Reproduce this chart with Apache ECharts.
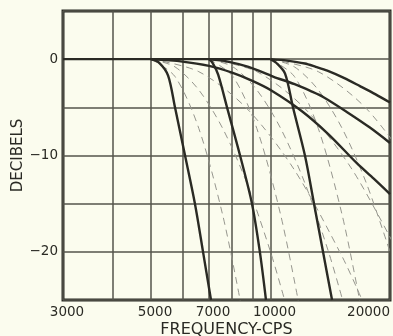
<!DOCTYPE html>
<html>
<head>
<meta charset="utf-8">
<script src="https://cdn.jsdelivr.net/npm/echarts@6/dist/echarts.min.js"></script>
<style>
  html, body { margin: 0; padding: 0; background: #fbfcee; }
  #chart { width: 393px; height: 336px; }
</style>
</head>
<body>
<div id="chart"></div>
<script>
// Axis labels and rulings
const freqLabels = [3000, 5000, 7000, 10000, 20000];
const freqRulings = [3000, 4000, 5000, 6000, 7000, 8000, 9000, 10000, 20000];
const dbLabels = [0, -10, -20];

// Common flat passband, [frequency in cps, decibels]
const passband = [[3000, 0], [10000, 0]];

// Solid response curves from each cutoff
const sharp5000 = [[5000, 0], [5250, -0.4], [5520, -1.7], [5745, -5], [6090, -10], [6450, -15], [6760, -20], [7080, -25]];
const sharp7000 = [[7000, 0], [7150, -0.4], [7380, -1.6], [7770, -5], [8380, -10], [8980, -15], [9400, -20], [9740, -25]];
const sharp10000 = [[10000, 0], [10350, -0.4], [10880, -1.5], [11390, -5], [12210, -10], [12870, -15], [13560, -20], [14290, -25]];

const gentle5000 = [[5000, 0], [6000, -0.25], [7000, -0.7], [8000, -1.4], [9000, -2.25], [10000, -3.2], [12000, -5.4], [14000, -7.8], [16500, -10.8], [18200, -12.4], [20000, -14.0]];
const gentle7000 = [[7000, 0], [7800, -0.25], [8800, -0.8], [10150, -1.8], [11500, -2.6], [12600, -3.3], [13600, -3.95], [15600, -5.5], [17800, -7.1], [20000, -8.7]];
const gentle10000 = [[10000, 0], [11000, -0.15], [12200, -0.45], [13000, -0.8], [13900, -1.2], [15300, -1.95], [16800, -2.8], [18400, -3.65], [20000, -4.5]];

// Dashed intermediate curves
const mid5000a = [[5000, 0], [5744, -1.8], [6598, -7.2], [7579, -16.2], [8409, -25.3]];
const mid5000b = [[5000, 0], [5744, -0.8], [6598, -3.2], [7579, -7.2], [8706, -12.8], [10000, -20], [10868, -25.1]];
const mid5000c = [[5000, 0], [6598, -1.3], [8706, -5.1], [11487, -11.5], [15157, -20.5], [17053, -25.1]];
const mid7000a = [[7000, 0], [8041, -1.8], [9237, -7.2], [10610, -16.2], [11773, -25.3]];
const mid7000b = [[7000, 0], [8041, -0.8], [9237, -3.2], [10610, -7.2], [12188, -12.8], [14000, -20], [15215, -25.1]];
const mid7000c = [[7000, 0], [9237, -1.3], [12188, -5.1], [16082, -11.5], [21220, -20.5]];
const mid10000a = [[10000, 0], [11487, -1.8], [13195, -7.2], [15157, -16.2], [16818, -25.3]];
const mid10000b = [[10000, 0], [11487, -0.8], [13195, -3.2], [15157, -7.2], [17411, -12.8], [20000, -20]];
const mid10000c = [[10000, 0], [13195, -1.3], [17411, -5.1], [22974, -11.5]];

const ink = '#2a2a24';
const font = 'DejaVu Sans';

function solid(data) {
  return {
    type: 'line', data: data, symbol: 'none', smooth: 0.3,
    lineStyle: { color: ink, width: 2.4 }, z: 4
  };
}
function dashed(data) {
  return {
    type: 'line', data: data, symbol: 'none', smooth: 0.3,
    lineStyle: { color: '#96968e', width: 1, type: [7, 5] }, z: 3
  };
}

const chart = echarts.init(document.getElementById('chart'), null, { renderer: 'canvas' });
chart.setOption({
  backgroundColor: '#fbfcee',
  animation: false,
  grid: {
    left: 63, right: 3, top: 11, bottom: 36,
    outerBoundsMode: 'none', containLabel: false,
    show: true, borderColor: ink, borderWidth: 3, backgroundColor: 'transparent'
  },
  xAxis: {
    type: 'log', logBase: 10, min: 3000, max: 20000,
    axisLine: { show: false },
    axisTick: { show: false, customValues: freqRulings },
    splitLine: { show: true, lineStyle: { color: '#55554b', width: 1.5 } },
    axisLabel: {
      customValues: freqLabels, margin: 5, color: ink, fontFamily: font, fontSize: 13.5,
      padding: [0, 0, 0, 8], alignMaxLabel: 'right', formatter: v => String(v)
    },
    name: 'FREQUENCY-CPS', nameLocation: 'middle', nameGap: 22, nameMoveOverlap: false,
    nameTextStyle: { color: ink, fontFamily: font, fontSize: 16 }
  },
  yAxis: {
    type: 'value', min: -25, max: 5, interval: 5,
    axisLine: { show: false },
    axisTick: { show: false },
    splitLine: { show: true, lineStyle: { color: '#55554b', width: 1.5 } },
    axisLabel: {
      margin: 5, color: ink, fontFamily: font, fontSize: 13.5,
      formatter: v => dbLabels.includes(v) ? (v < 0 ? '\u2212' + Math.abs(v) : String(v)) : ''
    },
    name: 'DECIBELS', nameLocation: 'middle', nameGap: 37, nameRotate: 90, nameMoveOverlap: false,
    nameTextStyle: { color: ink, fontFamily: font, fontSize: 15 }
  },
  series: [
    dashed(mid5000a), dashed(mid5000b), dashed(mid5000c),
    dashed(mid7000a), dashed(mid7000b), dashed(mid7000c),
    dashed(mid10000a), dashed(mid10000b), dashed(mid10000c),
    solid(passband),
    solid(sharp5000), solid(sharp7000), solid(sharp10000),
    solid(gentle5000), solid(gentle7000), solid(gentle10000)
  ]
});
</script>
</body>
</html>
